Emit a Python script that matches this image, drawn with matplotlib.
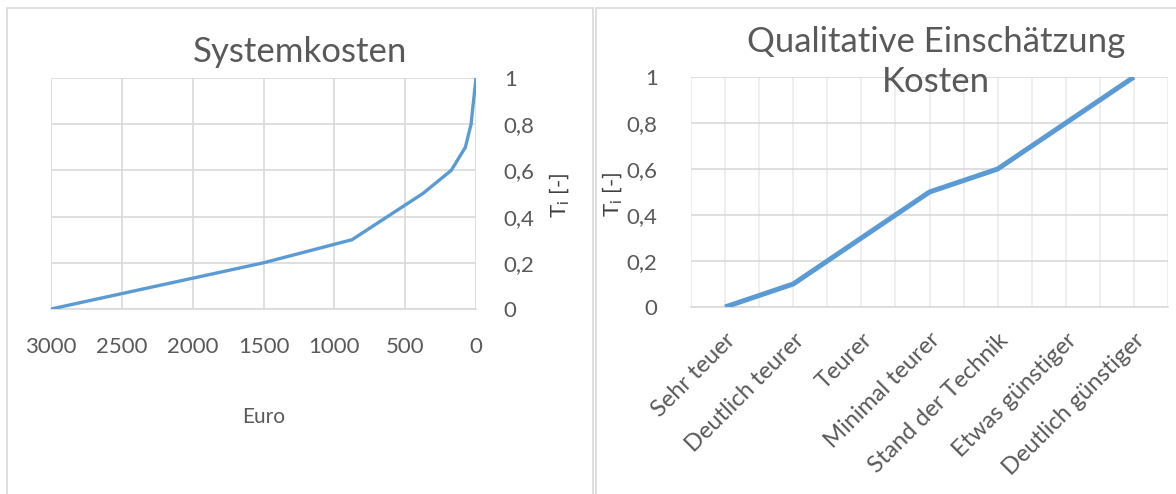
import matplotlib
matplotlib.use('Agg')
import matplotlib.pyplot as plt
from matplotlib.patches import Rectangle
from matplotlib.ticker import MultipleLocator

# data
euro = [3000, 1500, 875, 375, 175, 75, 35, 0]
ti_cost = [0, 0.2, 0.3, 0.5, 0.6, 0.7, 0.8, 1.0]

categories = ['Sehr teuer', 'Deutlich teurer', 'Teurer', 'Minimal teurer',
              'Stand der Technik', 'Etwas günstiger', 'Deutlich günstiger']
ti_qual = [0, 0.1, 0.3, 0.5, 0.6, 0.8, 1.0]

y_ticks = [0, 0.2, 0.4, 0.6, 0.8, 1.0]
y_labels = ['0', '0,2', '0,4', '0,6', '0,8', '1']
x_ticks = [3000, 2500, 2000, 1500, 1000, 500, 0]

plt.rcParams['font.family'] = ['Lato', 'DejaVu Sans']
grey = '#595959'
grid = '#d9d9d9'
blue = '#5b9bd5'

W, H = 1176, 494
fig = plt.figure(figsize=(W / 100, H / 100), dpi=100)

# panel frames
fig.patches.append(Rectangle((7 / W, -0.1), 586 / W, 1.1 - 8 / H, transform=fig.transFigure,
                             fill=False, edgecolor=grid, linewidth=1.2))
fig.patches.append(Rectangle((596 / W, -0.1), 0.6, 1.1 - 8 / H, transform=fig.transFigure,
                             fill=False, edgecolor=grid, linewidth=1.2))

# left chart
ax1 = fig.add_axes([51 / W, (H - 309) / H, (476 - 51) / W, (309 - 78) / H])
ax1.plot(euro, ti_cost, color=blue, linewidth=2.4, solid_capstyle='butt', zorder=3)
ax1.set_xlim(3000, 0)
ax1.set_ylim(0, 1)
ax1.set_xticks(x_ticks)
ax1.set_xticklabels([str(v) for v in x_ticks])
ax1.set_yticks(y_ticks)
ax1.set_yticklabels(y_labels)
ax1.yaxis.tick_right()
ax1.yaxis.set_label_position('right')
ax1.grid(True, color=grid, linewidth=1.2)
for s in ax1.spines.values():
    s.set_visible(False)
ax1.spines['bottom'].set_visible(True)
ax1.spines['bottom'].set_color(grid)
ax1.spines['bottom'].set_linewidth(1.2)
ax1.tick_params(axis='both', length=0, labelsize=16, colors=grey)
ax1.tick_params(axis='x', pad=20)
ax1.tick_params(axis='y', pad=20)
ax1.set_xlabel('Euro', fontsize=15, color=grey, labelpad=36)
ax1.set_ylabel('T$_\\mathregular{i}$ [-]', fontsize=16, color='#404040')
ax1.yaxis.set_label_coords(1.17, 0.49)
fig.text(300 / W, 1 - 52 / H, 'Systemkosten', ha='center', va='center',
         fontsize=25, color=grey)

# right chart
ax2 = fig.add_axes([691 / W, (H - 307) / H, (1168 - 691) / W, (307 - 77) / H])
xs = list(range(len(categories)))
ax2.plot(xs, ti_qual, color=blue, linewidth=3.6, solid_capstyle='butt', zorder=3)
ax2.set_xlim(-0.5, len(categories) - 0.5)
ax2.set_ylim(0, 1)
ax2.set_xticks(xs)
ax2.set_xticklabels(categories, rotation=45, ha='right', va='top', rotation_mode='anchor')
ax2.xaxis.set_minor_locator(MultipleLocator(0.5))
ax2.set_yticks(y_ticks)
ax2.set_yticklabels(y_labels)
ax2.grid(True, axis='y', color=grid, linewidth=1.2)
ax2.grid(True, axis='x', which='both', color='#ececec', linewidth=1.2)
for s in ax2.spines.values():
    s.set_visible(False)
ax2.spines['bottom'].set_visible(True)
ax2.spines['bottom'].set_color(grid)
ax2.spines['bottom'].set_linewidth(1.2)
ax2.tick_params(axis='both', which='both', length=0, labelsize=16, colors=grey)
ax2.tick_params(axis='x', labelsize=17, pad=16)
ax2.tick_params(axis='y', pad=24)
ax2.set_ylabel('T$_\\mathregular{i}$ [-]', fontsize=16, color='#404040')
ax2.yaxis.set_label_coords(-0.138, 0.49)
fig.text(936 / W, 1 - 42 / H, 'Qualitative Einschätzung', ha='center', va='center',
         fontsize=25, color=grey)
fig.text(936 / W, 1 - 82 / H, 'Kosten', ha='center', va='center',
         fontsize=25, color=grey)

fig.savefig('out.png', dpi=100)
